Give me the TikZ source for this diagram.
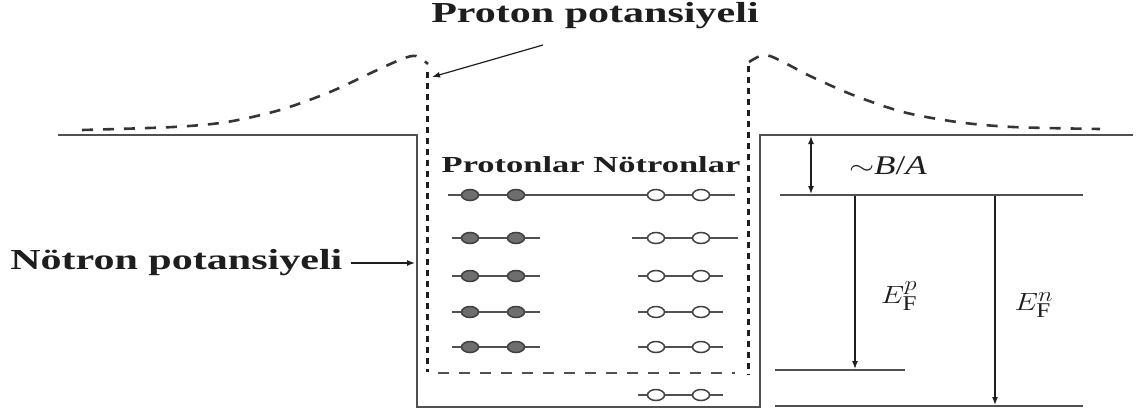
\documentclass[tikz,border=0pt]{standalone}
\usepackage{fontspec}
\setmainfont{Liberation Serif}
\usetikzlibrary{shapes.geometric,arrows.meta}
\definecolor{ink}{HTML}{1E1E1E}
\definecolor{linec}{HTML}{505050}
\definecolor{pgray}{HTML}{6E6E6E}
\tikzset{
  well/.style={line width=2pt, draw=linec},
  pcurve/.style={line width=2.6pt, draw=ink!90, dash pattern=on 11pt off 10pt},
  pdot/.style={line width=3pt, draw=ink, dash pattern=on 6pt off 5pt},
  ldash/.style={line width=2pt, draw=linec, dash pattern=on 11pt off 10pt},
  level/.style={line width=1.6pt, draw=linec},
  prot/.style={ellipse, draw=ink!85, line width=1.5pt, fill=pgray, minimum width=17pt, minimum height=11pt, inner sep=0pt},
  neut/.style={ellipse, draw=ink!85, line width=1.5pt, fill=white, minimum width=17pt, minimum height=11pt, inner sep=0pt},
  lbl/.style={font=\bfseries, text=ink, inner sep=0pt},
  arr/.style={line width=1.4pt, draw=ink, -{Latex[length=8pt,width=6pt]}},
  darr/.style={line width=1.4pt, draw=ink, {Latex[length=8pt,width=6pt]}-{Latex[length=8pt,width=6pt]}},
  mlbl/.style={text=ink, inner sep=0pt}
}
\begin{document}
\begin{tikzpicture}[x=1pt,y=-1pt]
\useasboundingbox (0,0) rectangle (1144,416);
% potential well (neutron)
\draw[well] (58,135) -- (417,135) -- (417,407) -- (760,407) -- (760,135) -- (1133,135);
% proton potential
\draw[pcurve] plot[smooth] coordinates {(82,130) (173,127) (227,122) (280,110) (330,92) (373,72) (402,59) (416,56) (428,64)};
\draw[pcurve] plot[smooth] coordinates {(749,62) (760,56) (770,56) (787,64) (810,76) (853,95) (903,112) (957,122) (1013,127) (1100,129)};
\draw[pdot] (427,72) -- (427,372);
\draw[pdot] (748,66) -- (748,375);
\draw[ldash] (438,373) -- (735,373);
% labels
\node[lbl, font=\bfseries\fontsize{29}{32}\selectfont, xscale=1.45] (title) at (595,16) {Proton potansiyeli};
\node[lbl, font=\bfseries\fontsize{29}{32}\selectfont, xscale=1.45, anchor=west] (nlab) at (10,263) {Nötron potansiyeli};
\node[lbl, font=\bfseries\fontsize{23}{26}\selectfont, xscale=1.5] (pn) at (591,165) {Protonlar Nötronlar};
\coordinate (ptip) at (432,77);
\coordinate (ptail) at (543,45);
\draw[arr, line width=1.2pt] (ptail) -- (ptip);
\coordinate (ntip) at (415,263);
\draw[arr, line width=1.2pt] (nlab.east) ++(8,0) coordinate (ntail) -- (ntip);
% levels
\foreach \i/\y in {1/195,2/238,3/276,4/312,5/347}{
  \ifnum\i=1
    \draw[level] (448,\y) -- (735,\y);
  \else
    \draw[level] (452,\y) -- (540,\y);
    \ifnum\i=2 \draw[level] (632,\y) -- (738,\y); \else \draw[level] (638,\y) -- (723,\y); \fi
  \fi
  \node[prot] (p\i a) at (470,\y) {};
  \node[prot] (p\i b) at (516,\y) {};
  \node[neut] (n\i a) at (656,\y) {};
  \node[neut] (n\i b) at (701,\y) {};
}
\draw[level] (638,395) -- (723,395);
\node[neut] (n6a) at (656,395) {};
\node[neut] (n6b) at (701,395) {};
% Fermi energies
\coordinate (fl1) at (780,195); \coordinate (fr1) at (1083,195);
\coordinate (fl2) at (775,370); \coordinate (fr2) at (905,370);
\coordinate (fl3) at (775,406); \coordinate (fr3) at (1083,406);
\draw[level] (fl1) -- (fr1);
\draw[level] (fl2) -- (fr2);
\draw[level] (fl3) -- (fr3);
\coordinate (ba1) at (811,136); \coordinate (ba2) at (811,194);
\draw[darr] (ba1) -- (ba2);
\coordinate (ep1) at (855,196); \coordinate (ep2) at (855,369);
\draw[arr] (ep1) -- (ep2);
\coordinate (en1) at (995,196); \coordinate (en2) at (995,405);
\draw[arr] (en1) -- (en2);
\node[mlbl, font=\fontsize{27}{30}\selectfont, xscale=1.3] (ba) at (888,166) {$\sim$\textit{B}/\textit{A}};
\node[mlbl, font=\fontsize{30}{32}\selectfont, xscale=1.2] (efp) at (899,296) {$E^{p}_{\mathrm{F}}$};
\node[mlbl, font=\fontsize{30}{32}\selectfont, xscale=1.2] (efn) at (1034,305) {$E^{n}_{\mathrm{F}}$};
\end{tikzpicture}
\end{document}
